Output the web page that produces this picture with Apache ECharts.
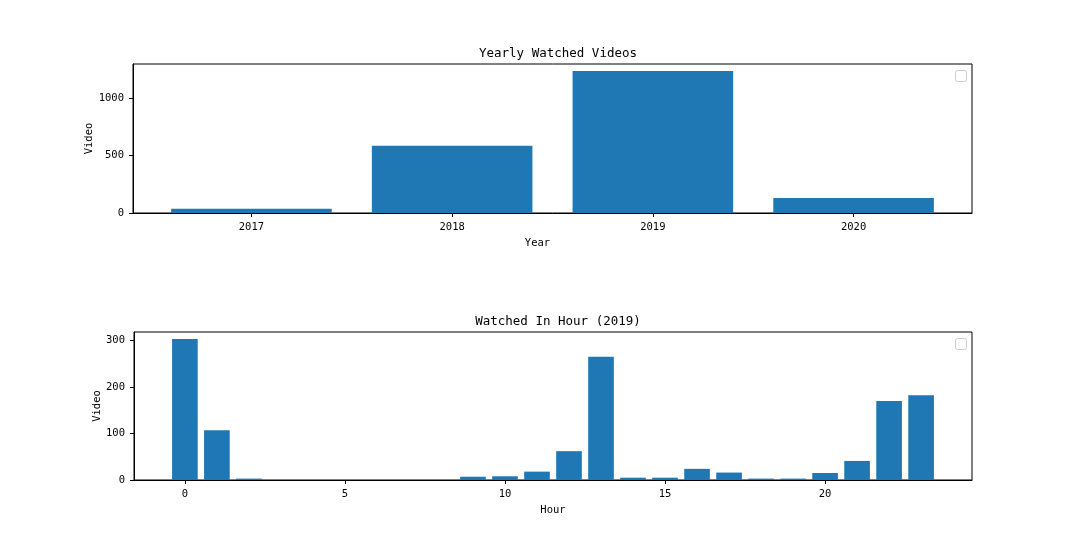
<!DOCTYPE html>
<html>
<head>
<meta charset="utf-8">
<script src="https://cdn.jsdelivr.net/npm/echarts@6/dist/echarts.min.js"></script>
<style>
  html, body { margin: 0; padding: 0; background: #fff; }
  #chart { width: 1080px; height: 540px; }
</style>
</head>
<body>
<div id="chart"></div>
<script>
// yearly counts
var years = ['2017', '2018', '2019', '2020'];
var yearCounts = [38, 588, 1239, 132];

// hourly counts for 2019
var hours = [0, 1, 2, 3, 4, 5, 6, 7, 8, 9, 10, 11, 12, 13, 14, 15, 16, 17, 18, 19, 20, 21, 22, 23];
var hourCounts = [303, 107, 3, 0, 0, 0, 0, 0, 0, 7, 8, 18, 62, 265, 5, 5, 24, 16, 3, 3, 15, 41, 170, 182];

var yearTicks = [0, 500, 1000];
var hourTicks = [0, 5, 10, 15, 20];
var hourYTicks = [0, 100, 200, 300];

var font = 'DejaVu Sans Mono';
var blue = '#1f77b4';

var g1 = { left: 133, right: 108, top: 64, height: 149 };
var g2 = { left: 134, right: 108, top: 332, height: 148 };
var gw = 1080 - g1.left - g1.right;

// matplotlib-like limits (bar width 0.8, 5% margins)
var xMin1 = -0.4 - 0.05 * (years.length - 1 + 0.8);
var xMax1 = years.length - 1 + 0.4 + 0.05 * (years.length - 1 + 0.8);
var xMin2 = -0.4 - 0.05 * (hours.length - 1 + 0.8);
var xMax2 = hours.length - 1 + 0.4 + 0.05 * (hours.length - 1 + 0.8);
var yMax1 = Math.max.apply(null, yearCounts) * 1.05;
var yMax2 = Math.max.apply(null, hourCounts) * 1.05;

var bw1 = 0.8 * gw / (xMax1 - xMin1);
var bw2 = 0.8 * gw / (xMax2 - xMin2);

var chart = echarts.init(document.getElementById('chart'));

function xAxisBase(min, max, ticks, fmt, name, pad) {
  return {
    type: 'value', min: min, max: max,
    name: name, nameLocation: 'middle', nameGap: 25,
    nameTextStyle: { fontFamily: font, fontSize: 10.5, color: '#000', padding: pad },
    axisLine: { show: true, onZero: false, lineStyle: { color: '#000', width: 1 } },
    axisTick: { show: true, inside: false, length: 4, customValues: ticks, lineStyle: { color: '#000' } },
    axisLabel: { customValues: ticks, formatter: fmt, fontFamily: font, fontSize: 10.5, color: '#000', margin: 9 },
    splitLine: { show: false }
  };
}
function yAxisBase(max, ticks, nameGap) {
  return {
    type: 'value', min: 0, max: max,
    name: 'Video', nameLocation: 'middle', nameGap: nameGap, nameRotate: 90,
    nameMoveOverlap: false,
    nameTextStyle: { fontFamily: font, fontSize: 10.5, color: '#000' },
    axisLine: { show: true, onZero: false, lineStyle: { color: '#000', width: 1 } },
    axisTick: { show: true, inside: false, length: 4, customValues: ticks, lineStyle: { color: '#000' } },
    axisLabel: { customValues: ticks, formatter: function (v) { return String(v); }, fontFamily: font, fontSize: 10.5, color: '#000', margin: 9 },
    splitLine: { show: false }
  };
}

var option = {
  animation: false,
  backgroundColor: '#fff',
  title: [{
    text: 'Yearly Watched Videos', left: 553, top: 42, textAlign: 'center',
    textStyle: { fontFamily: font, fontSize: 12.5, fontWeight: 'normal', color: '#000' }
  }, {
    text: 'Watched In Hour (2019)', left: 553, top: 310, textAlign: 'center',
    textStyle: { fontFamily: font, fontSize: 12.5, fontWeight: 'normal', color: '#000' }
  }],
  grid: [
    { left: g1.left, right: g1.right, top: g1.top, height: g1.height, show: true, borderColor: '#000', borderWidth: 1, backgroundColor: '#fff' },
    { left: g2.left, right: g2.right, top: g2.top, height: g2.height, show: true, borderColor: '#000', borderWidth: 1, backgroundColor: '#fff' }
  ],
  xAxis: [
    Object.assign(xAxisBase(xMin1, xMax1, [0, 1, 2, 3], function (v) { return years[Math.round(v)]; }, 'Year', [0, 30, 0, 0]), { gridIndex: 0 }),
    Object.assign(xAxisBase(xMin2, xMax2, hourTicks, function (v) { return String(v); }, 'Hour', 0), { gridIndex: 1 })
  ],
  yAxis: [
    Object.assign(yAxisBase(yMax1, yearTicks, 38), { gridIndex: 0 }),
    Object.assign(yAxisBase(yMax2, hourYTicks, 31), { gridIndex: 1 })
  ],
  series: [{
    type: 'bar', xAxisIndex: 0, yAxisIndex: 0,
    barWidth: bw1,
    itemStyle: { color: blue },
    data: yearCounts.map(function (v, i) { return [i, v]; })
  }, {
    type: 'bar', xAxisIndex: 1, yAxisIndex: 1,
    barWidth: bw2,
    itemStyle: { color: blue },
    data: hours.map(function (h, i) { return [h, hourCounts[i]]; })
  }],
  graphic: [
    { type: 'rect', shape: { x: 955.5, y: 70.5, width: 11, height: 11, r: 2 }, style: { fill: '#fff', stroke: '#ccc', lineWidth: 1 } },
    { type: 'rect', shape: { x: 955.5, y: 338.5, width: 11, height: 11, r: 2 }, style: { fill: '#fff', stroke: '#ccc', lineWidth: 1 } }
  ]
};
chart.setOption(option);
</script>
</body>
</html>
